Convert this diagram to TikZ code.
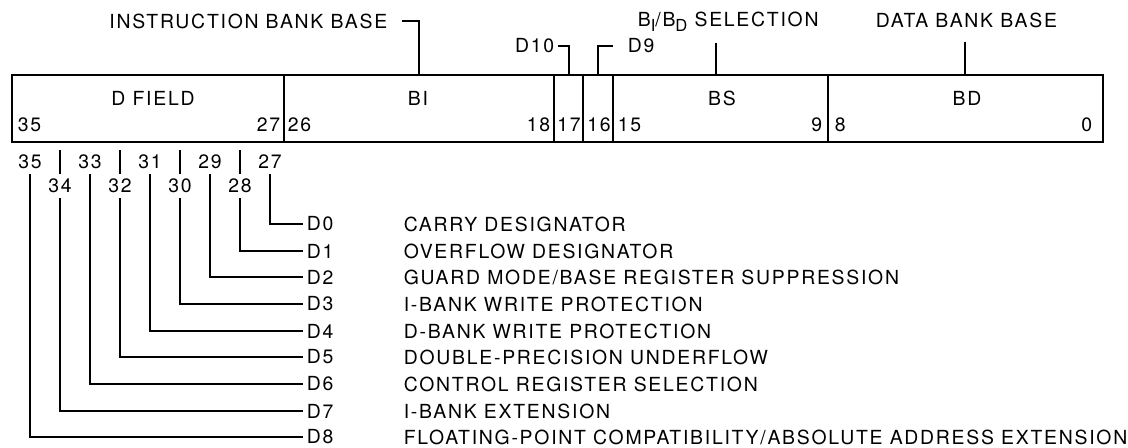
\documentclass[tikz,border=0pt]{standalone}
\usepackage{fontspec}
\setmainfont{TeX Gyre Heros}[LetterSpace=9]
\usetikzlibrary{positioning}
\newcommand{\lowsub}[1]{\raisebox{-4pt}{\fontsize{11.8}{12}\selectfont #1}}

\begin{document}
\begin{tikzpicture}[x=0.025cm,y=-0.025cm,line width=1.4pt,
  font=\fontsize{13.8}{16}\selectfont,
  field/.style={draw,minimum height=1.675cm,inner sep=0pt,outer sep=0pt},
  fname/.style={inner sep=2pt},
  bitno/.style={inner sep=2pt},
  toplab/.style={inner sep=2pt},
  bitpin/.style={inner sep=0.1cm},
  dlab/.style={anchor=west,inner sep=2pt},
  desc/.style={anchor=west,inner sep=2pt}]
 \useasboundingbox (0,0) rectangle (1128,447);
 % the word and its fields
 \node[field,minimum width=6.8cm] (df) at (148,108.5) {};
 \node[field,minimum width=6.75cm,right=0pt of df] (bi) {};
 \node[field,minimum width=0.725cm,right=0pt of bi] (b17) {};
 \node[field,minimum width=0.75cm,right=0pt of b17] (b16) {};
 \node[field,minimum width=5.375cm,right=0pt of b16] (bs) {};
 \node[field,minimum width=6.875cm,right=0pt of bs] (bd) {};
 \node[fname] (dft) at (153,98) {D FIELD};
 \node[fname] (bit) at (418,98) {BI};
 \node[fname] (bst) at (722,98) {BS};
 \node[fname] (bdt) at (967,98) {BD};
 \node[bitno,anchor=west] (i35) at (14,125) {35};
 \node[bitno,anchor=east] (i27) at (284,125) {27};
 \node[bitno,anchor=west] (i26) at (284,125) {26};
 \node[bitno,anchor=east] (i18) at (554,125) {18};
 \node[bitno] (i17) at (569,125) {17};
 \node[bitno] (i16) at (599,125) {16};
 \node[bitno,anchor=west] (i15) at (614,125) {15};
 \node[bitno,anchor=east] (i9) at (826,125) {9};
 \node[bitno,anchor=west] (i8) at (831,125) {8};
 \node[bitno,anchor=east] (i0) at (1096,125) {0};
 % labels above
 \node[toplab,anchor=east] (ibb) at (391,21) {INSTRUCTION BANK BASE};
 \draw[shorten <=2.75mm] (ibb.east) -| (bi.north);
 \node[toplab,anchor=east] (d10) at (558,46) {D10};
 \draw (d10.east) -| (b17.north);
 \node[toplab,anchor=west] (d9) at (624,46) {D9};
 \draw[shorten >=2.75mm] (b16.north) |- (d9.west);
 \node[toplab,anchor=base west] (sel) at (634,26) {B\lowsub{I}/B\lowsub{D} SELECTION};
 \coordinate (selfoot) at (716,43);
 \draw (selfoot) -- (selfoot |- bs.north);
 \node[toplab,anchor=west] (dbb) at (872,20) {DATA BANK BASE};
 \coordinate (dbbfoot) at (965,42);
 \draw (dbbfoot) -- (dbbfoot |- bd.north);
 % D field bits
 \node[bitpin] (n35) at (30,162) {35};
 \node[bitpin] (n34) at (60,186) {34};
 \node[bitpin] (n33) at (90,162) {33};
 \node[bitpin] (n32) at (120,186) {32};
 \node[bitpin] (n31) at (150,162) {31};
 \node[bitpin] (n30) at (180,186) {30};
 \node[bitpin] (n29) at (210,162) {29};
 \node[bitpin] (n28) at (240,186) {28};
 \node[bitpin] (n27) at (270,162) {27};
 \draw[shorten <=2mm] (n34.north |- df.south) -- (n34.north);
 \draw[shorten <=2mm] (n32.north |- df.south) -- (n32.north);
 \draw[shorten <=2mm] (n30.north |- df.south) -- (n30.north);
 \draw[shorten <=2mm] (n28.north |- df.south) -- (n28.north);
 \node[dlab] (d0) at (303,224) {D0}; \node[desc] (t0) at (400,224) {CARRY DESIGNATOR};
 \node[dlab] (d1) at (303,251) {D1}; \node[desc] (t1) at (400,251) {OVERFLOW DESIGNATOR};
 \node[dlab] (d2) at (303,277) {D2}; \node[desc] (t2) at (400,277) {GUARD MODE/BASE REGISTER SUPPRESSION};
 \node[dlab] (d3) at (303,304) {D3}; \node[desc] (t3) at (400,304) {I-BANK WRITE PROTECTION};
 \node[dlab] (d4) at (303,331) {D4}; \node[desc] (t4) at (400,331) {D-BANK WRITE PROTECTION};
 \node[dlab] (d5) at (303,357) {D5}; \node[desc] (t5) at (400,357) {DOUBLE-PRECISION UNDERFLOW};
 \node[dlab] (d6) at (303,384) {D6}; \node[desc] (t6) at (400,384) {CONTROL REGISTER SELECTION};
 \node[dlab] (d7) at (303,411) {D7}; \node[desc] (t7) at (400,411) {I-BANK EXTENSION};
 \node[dlab] (d8) at (303,437) {D8}; \node[desc] (t8) at (400,437) {FLOATING-POINT COMPATIBILITY/ABSOLUTE ADDRESS EXTENSION};
 \draw (n27.south) |- (d0.west);
 \draw (n28.south) |- (d1.west);
 \draw (n29.south) |- (d2.west);
 \draw (n30.south) |- (d3.west);
 \draw (n31.south) |- (d4.west);
 \draw (n32.south) |- (d5.west);
 \draw (n33.south) |- (d6.west);
 \draw (n34.south) |- (d7.west);
 \draw (n35.south) |- (d8.west);
\end{tikzpicture}
\end{document}
